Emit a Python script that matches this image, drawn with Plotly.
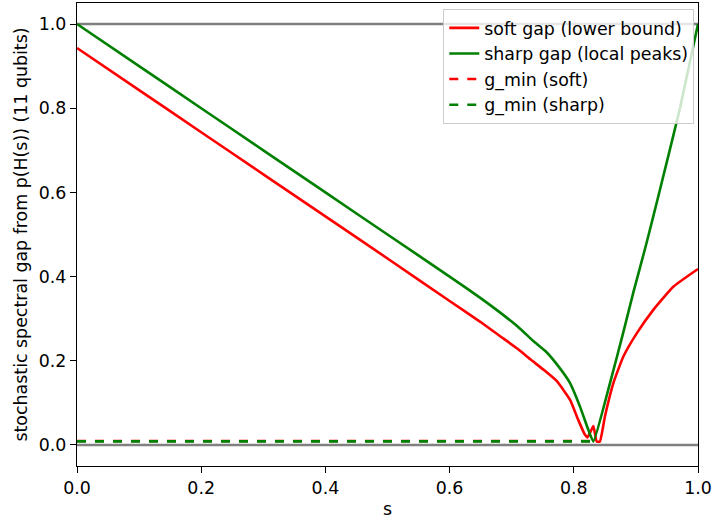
import plotly.graph_objects as go

# soft gap (lower bound)
s_soft = [0.0, 0.1, 0.2, 0.3, 0.4, 0.5, 0.6, 0.65, 0.681, 0.71, 0.7295, 0.752,
          0.7725, 0.794, 0.8073, 0.818, 0.822, 0.8265, 0.8315, 0.837, 0.842,
          0.8502, 0.8637, 0.8798, 0.9013, 0.928, 0.9602, 1.0]
soft = [0.943, 0.843, 0.743, 0.643, 0.543, 0.443, 0.342, 0.292, 0.259, 0.228,
        0.204, 0.178, 0.152, 0.107, 0.059, 0.024, 0.018, 0.03, 0.045, 0.008,
        0.008, 0.068, 0.147, 0.21, 0.265, 0.321, 0.376, 0.418]

# sharp gap (local peaks)
s_sharp = [0.0, 0.1, 0.2, 0.3, 0.4, 0.5, 0.6, 0.65, 0.681, 0.71, 0.7348, 0.755,
           0.7725, 0.794, 0.81, 0.8234, 0.8315, 0.8583, 0.8798, 0.896, 0.9163,
           0.9356, 0.971, 1.0]
sharp = [1.0, 0.9, 0.8, 0.7, 0.6, 0.5, 0.4, 0.349, 0.315, 0.281, 0.247, 0.222,
         0.192, 0.147, 0.091, 0.036, 0.008, 0.147, 0.268, 0.363, 0.475, 0.588,
         0.8, 1.0]

# g_min reference lines (from s=0 to argmin)
gmin_soft_s = [0.0, 0.837]
gmin_soft = [0.0095, 0.0095]
gmin_sharp_s = [0.0, 0.8315]
gmin_sharp = [0.0085, 0.0085]

x_ticks = [0.0, 0.2, 0.4, 0.6, 0.8, 1.0]
y_ticks = [0.0, 0.2, 0.4, 0.6, 0.8, 1.0]

RED = "#ff0000"
GREEN = "#008000"
FS = 17.4
LW = 2.6

fig = go.Figure()
fig.add_trace(go.Scatter(x=s_soft, y=soft, mode="lines", name="soft gap (lower bound)",
                         line=dict(color=RED, width=LW, shape="spline", smoothing=0.4)))
fig.add_trace(go.Scatter(x=s_sharp, y=sharp, mode="lines", name="sharp gap (local peaks)",
                         line=dict(color=GREEN, width=LW, shape="spline", smoothing=0.4)))
fig.add_trace(go.Scatter(x=gmin_soft_s, y=gmin_soft, mode="lines", name="g_min (soft)",
                         line=dict(color=RED, width=LW, dash="dash")))
fig.add_trace(go.Scatter(x=gmin_sharp_s, y=gmin_sharp, mode="lines", name="g_min (sharp)",
                         line=dict(color=GREEN, width=LW, dash="dash")))

for yv in (0.0, 1.0):
    fig.add_shape(type="line", xref="paper", x0=0, x1=1, yref="y", y0=yv, y1=yv,
                  line=dict(color="#808080", width=LW), layer="below")

axis_common = dict(showgrid=False, zeroline=False, showline=True, linecolor="black",
                   linewidth=1.4, mirror=True, ticks="outside", ticklen=6, tickwidth=1.4,
                   tickcolor="black", tickformat=".1f", automargin=False,
                   tickfont=dict(family="DejaVu Sans", size=FS, color="black"))

fig.update_layout(
    width=713, height=522,
    margin=dict(l=77, r=15, t=3, b=56),
    paper_bgcolor="white", plot_bgcolor="white",
    font=dict(family="DejaVu Sans", size=FS, color="black"),
    xaxis=dict(range=[0, 1], tickvals=x_ticks,
               title=dict(text="s", font=dict(size=FS), standoff=5), **axis_common),
    yaxis=dict(range=[-0.05, 1.05], tickvals=y_ticks,
               title=dict(text="stochastic spectral gap from p(H(s)) (11 qubits)",
                          font=dict(size=FS), standoff=6), **axis_common),
    legend=dict(x=0.994, y=0.987, xanchor="right", yanchor="top",
                bgcolor="rgba(255,255,255,0.8)", bordercolor="#cccccc", borderwidth=1,
                font=dict(family="DejaVu Sans", size=FS), tracegroupgap=0),
    showlegend=True,
)

fig.write_html("out.html")
